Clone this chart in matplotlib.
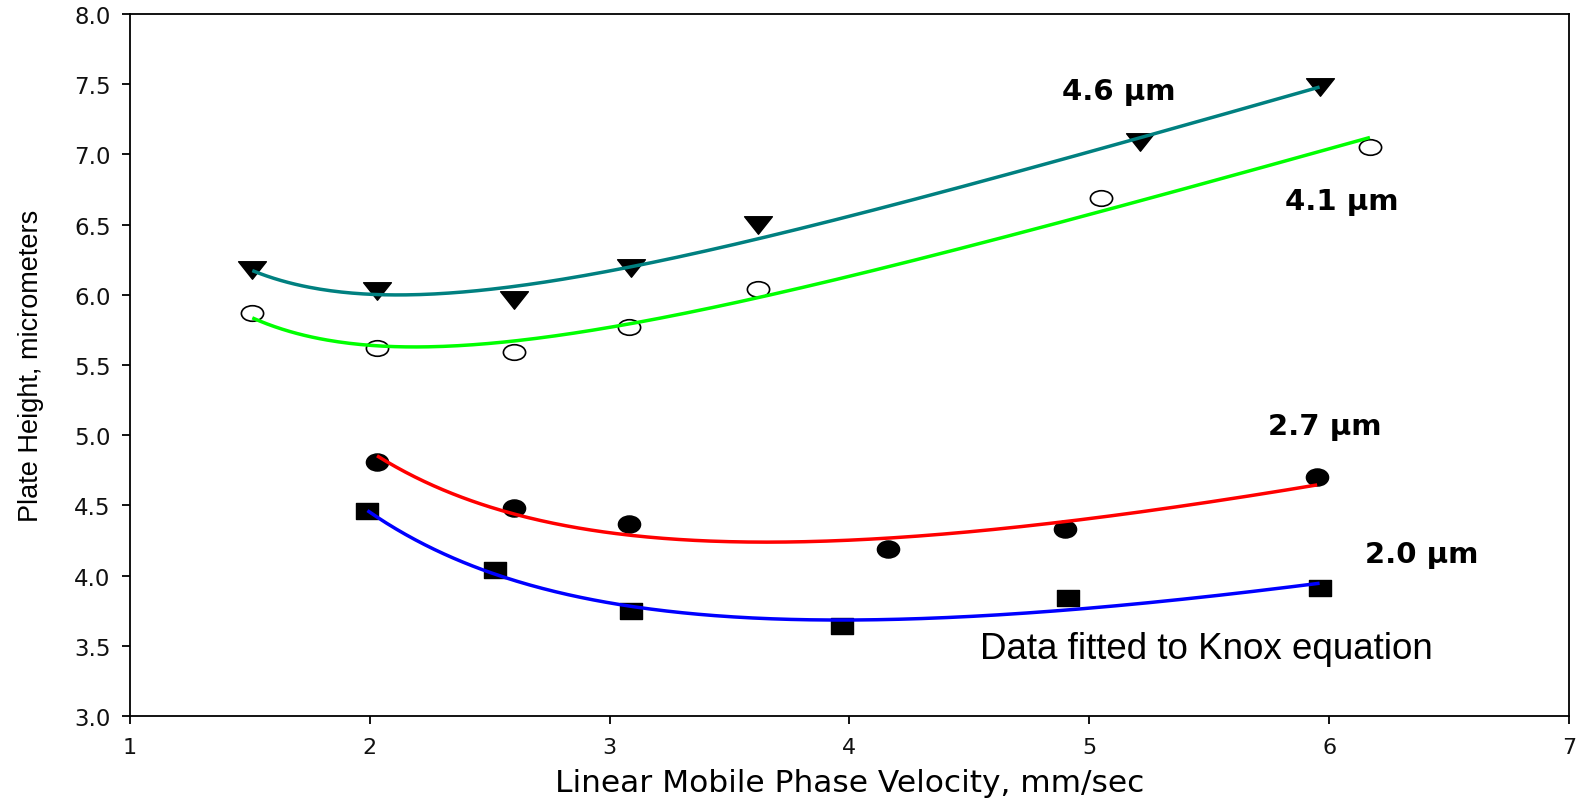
import numpy as np
import matplotlib
matplotlib.use("Agg")
import matplotlib.pyplot as plt
from matplotlib.path import Path
from matplotlib import font_manager

# Plate height vs. linear velocity for four particle sizes
v46_x = [1.51, 2.03, 2.60, 3.09, 3.62, 5.21, 5.96]
v46_y = [6.18, 6.03, 5.96, 6.19, 6.50, 7.09, 7.48]
v41_x = [1.51, 2.03, 2.60, 3.08, 3.62, 5.05, 6.17]
v41_y = [5.87, 5.62, 5.59, 5.77, 6.04, 6.69, 7.05]
v27_x = [2.03, 2.60, 3.08, 4.16, 4.90, 5.95]
v27_y = [4.81, 4.48, 4.37, 4.19, 4.33, 4.70]
v20_x = [1.99, 2.52, 3.09, 3.97, 4.91, 5.96]
v20_y = [4.46, 4.04, 3.75, 3.64, 3.84, 3.91]

series_labels = ["4.6 µm", "4.1 µm", "2.7 µm", "2.0 µm"]
x_ticks = [1, 2, 3, 4, 5, 6, 7]
y_ticks = [3.0, 3.5, 4.0, 4.5, 5.0, 5.5, 6.0, 6.5, 7.0, 7.5, 8.0]

available = {f.name for f in font_manager.fontManager.ttflist}
narrow = "Liberation Sans Narrow" if "Liberation Sans Narrow" in available else "Liberation Sans"
ylabel_size = 23.5 if narrow == "Liberation Sans Narrow" else 19.5


def knox_fit(x, y):
    """Least-squares fit of H = A*u^(1/3) + B/u + C*u."""
    x = np.asarray(x, float)
    y = np.asarray(y, float)
    M = np.column_stack([np.cbrt(x), 1.0 / x, x])
    coef, *_ = np.linalg.lstsq(M, y, rcond=None)
    u = np.linspace(x.min(), x.max(), 300)
    return u, coef[0] * np.cbrt(u) + coef[1] / u + coef[2] * u


def squashed(path, ky):
    return Path(path.vertices * np.array([1.0, ky]), path.codes)


tri_down = Path([(-1, 0.63), (1, 0.63), (0, -0.63), (-1, 0.63)],
                [Path.MOVETO, Path.LINETO, Path.LINETO, Path.CLOSEPOLY])
open_ell = squashed(Path.unit_circle(), 0.70)
full_ell = squashed(Path.unit_circle(), 0.77)
flat_sq = Path([(-1, -0.76), (1, -0.76), (1, 0.76), (-1, 0.76), (-1, -0.76)],
               [Path.MOVETO, Path.LINETO, Path.LINETO, Path.LINETO, Path.CLOSEPOLY])

W, H = 1576, 803
fig = plt.figure(figsize=(W / 100, H / 100), dpi=100)
ax = fig.add_axes([130 / W, (H - 717) / H, (1569 - 130) / W, (717 - 15) / H])

series = [
    (v46_x, v46_y, "#008080", dict(marker=tri_down, ms=20, mfc="black", mec="black")),
    (v41_x, v41_y, "#00ff00", dict(marker=open_ell, ms=16, mfc="white", mec="black", mew=1.2)),
    (v27_x, v27_y, "#ff0000", dict(marker=full_ell, ms=16, mfc="black", mec="black")),
    (v20_x, v20_y, "#0000ff", dict(marker=flat_sq, ms=16, mfc="black", mec="black")),
]

for x, y, color, mk in series:
    ax.plot(x, y, linestyle="none", zorder=2, **mk)
    u, h = knox_fit(x, y)
    ax.plot(u, h, color=color, lw=2.5, zorder=3, solid_capstyle="butt")

ax.set_xlim(1, 7)
ax.set_ylim(3.0, 8.0)
ax.set_xticks(x_ticks)
ax.set_xticklabels([str(t) for t in x_ticks])
ax.set_yticks(y_ticks)
ax.set_yticklabels([f"{t:.1f}" for t in y_ticks])

for s in ax.spines.values():
    s.set_linewidth(1.3)
ax.tick_params(axis="both", direction="out", length=6, width=1.3, color="black")
ax.tick_params(axis="y", labelsize=16.5, pad=8)
ax.tick_params(axis="x", labelsize=16, pad=9)
for lab in ax.get_xticklabels() + ax.get_yticklabels():
    lab.set_family("DejaVu Sans")
    lab.set_color("#111111")

ax.set_xlabel("Linear Mobile Phase Velocity, mm/sec", family="DejaVu Sans",
              fontsize=22.5, va="top")
ax.xaxis.set_label_coords(0.5, -0.074)
ax.set_ylabel("Plate Height, micrometers", family=narrow, fontsize=ylabel_size)
ax.yaxis.set_label_coords(-0.060, 0.5)

label_pos = [(4.887, 7.394), (5.816, 6.611), (5.746, 5.009), (6.150, 4.097)]
for (lx, ly), text in zip(label_pos, series_labels):
    ax.text(lx, ly, text, family="DejaVu Sans", fontweight="bold", fontsize=21,
            ha="left", va="baseline")

ax.text(4.545, 3.413, "Data fitted to Knox equation", family="Liberation Sans",
        fontsize=26.5, ha="left", va="baseline")

fig.savefig("out.png", dpi=100)
